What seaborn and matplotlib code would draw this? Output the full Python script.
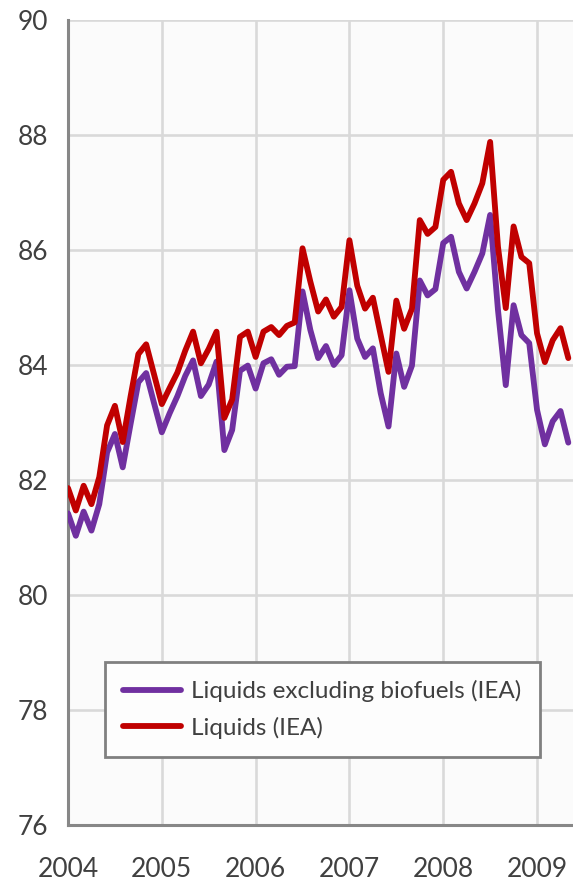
import numpy as np
import pandas as pd
import matplotlib
matplotlib.use("Agg")
import matplotlib.pyplot as plt
import seaborn as sns

# monthly world liquids supply, mb/d, Jan 2004 - May 2009
years = ["2004", "2005", "2006", "2007", "2008", "2009"]

liquids = [
    81.86, 81.47, 81.90, 81.58, 82.05, 82.95, 83.29, 82.66, 83.45, 84.19, 84.36, 83.84,
    83.32, 83.60, 83.87, 84.25, 84.58, 84.03, 84.28, 84.58, 83.08, 83.40, 84.49, 84.58,
    84.14, 84.58, 84.66, 84.52, 84.68, 84.74, 86.03, 85.45, 84.93, 85.14, 84.84, 85.01,
    86.17, 85.38, 84.98, 85.17, 84.52, 83.88, 85.12, 84.63, 84.98, 86.52, 86.28, 86.40,
    87.22, 87.36, 86.81, 86.52, 86.81, 87.16, 87.88, 86.06, 84.99, 86.41, 85.88, 85.77,
    84.55, 84.05, 84.43, 84.64, 84.12,
]

liquids_ex_bio = [
    81.42, 81.03, 81.45, 81.12, 81.58, 82.48, 82.80, 82.22, 82.97, 83.70, 83.86, 83.34,
    82.83, 83.16, 83.46, 83.81, 84.08, 83.46, 83.66, 84.06, 82.52, 82.87, 83.90, 83.99,
    83.59, 84.03, 84.10, 83.83, 83.97, 83.98, 85.28, 84.61, 84.12, 84.33, 84.00, 84.17,
    85.30, 84.46, 84.14, 84.29, 83.51, 82.93, 84.20, 83.62, 83.99, 85.47, 85.21, 85.32,
    86.12, 86.23, 85.62, 85.33, 85.62, 85.94, 86.61, 84.96, 83.65, 85.04, 84.52, 84.38,
    83.22, 82.62, 83.02, 83.20, 82.65,
]

NAME_EX = "Liquids excluding biofuels (IEA)"
NAME_ALL = "Liquids (IEA)"

month = np.arange(len(liquids))
df = pd.DataFrame({
    "month": np.concatenate([month, month]),
    "value": liquids_ex_bio + liquids,
    "series": [NAME_EX] * len(month) + [NAME_ALL] * len(month),
})

sns.set_style("white")
plt.rcParams["font.family"] = ["Lato", "DejaVu Sans"]

fig = plt.figure(figsize=(5.73, 8.83), dpi=100)
ax = fig.add_axes([68 / 573, 1 - 825 / 883, 505 / 573, 805 / 883])
ax.set_facecolor("#fbfbfb")

sns.lineplot(data=df, x="month", y="value", hue="series",
             hue_order=[NAME_EX, NAME_ALL],
             palette={NAME_EX: "#7030a0", NAME_ALL: "#c00000"},
             linewidth=4.2, ax=ax, zorder=3)

ax.set_xlim(0, 64.6)
ax.set_ylim(76, 90)
ax.set_yticks(range(76, 91, 2))
ax.set_xticks(range(0, 61, 12))
ax.set_xticklabels(years)
ax.set_xlabel("")
ax.set_ylabel("")

ax.grid(True, color="#d9d9d9", linewidth=1.9, zorder=0)
ax.set_axisbelow(True)
for s in ["top", "right"]:
    ax.spines[s].set_visible(False)
for s in ["left", "bottom"]:
    ax.spines[s].set_color("#878787")
    ax.spines[s].set_linewidth(2.2)

ax.tick_params(axis="both", direction="out", length=5, width=2,
               color="#878787", labelcolor="#404040", labelsize=19)
ax.tick_params(axis="x", pad=18)
ax.tick_params(axis="y", pad=9)

leg = ax.legend(loc="lower left", bbox_to_anchor=(0.073, 0.0845),
                borderaxespad=0, fontsize=17.5, handlelength=2.4,
                frameon=True, fancybox=False, framealpha=1,
                borderpad=0.75, labelspacing=0.6, handletextpad=0.4)
leg.get_frame().set_edgecolor("#808080")
leg.get_frame().set_linewidth(2)
leg.get_frame().set_facecolor("#fdfdfd")
for t in leg.get_texts():
    t.set_color("#404040")

fig.savefig("out.png", dpi=100)
